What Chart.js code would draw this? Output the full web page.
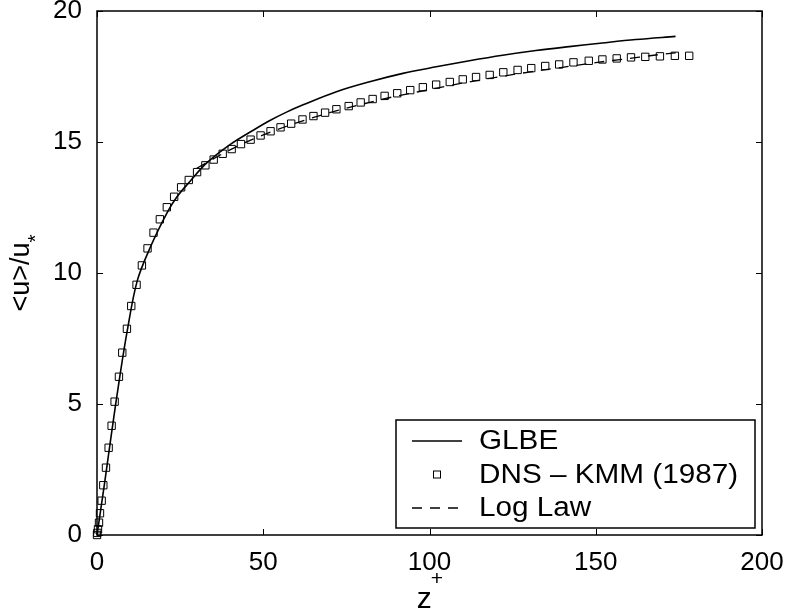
<!DOCTYPE html>
<html>
<head>
<meta charset="utf-8">
<script src="https://cdn.jsdelivr.net/npm/chart.js@4/dist/chart.umd.min.js"></script>
<style>
html,body{margin:0;padding:0;background:#fff;}
#wrap{width:789px;height:615px;}
</style>
</head>
<body>
<div id="wrap"><canvas id="c" width="789" height="615"></canvas></div>
<script>
// ---- data ----
const glbeZ = [0,2.3,4.5,6.8,9.1,12.1,16.1,21.1,24,28,33,40,47,52,57,62,72,82,92,102,112,122,132,142,152,162,174];
const glbeU = [0,2.0,4.0,6.0,7.8,9.7,11.0,12.3,12.9,13.5,14.2,14.9,15.45,15.82,16.14,16.42,16.92,17.3,17.62,17.87,18.1,18.31,18.49,18.64,18.78,18.91,19.03];

const dnsZ = [0,0.1,0.3,0.6,0.9,1.4,1.9,2.7,3.5,4.4,5.3,6.6,7.6,9.0,10.3,11.9,13.5,15.2,17.0,18.9,21.0,23.2,25.3,27.6,30.1,32.6,35.1,37.8,40.5,43.3,46.2,49.2,52.2,55.2,58.4,61.8,65.1,68.6,72.0,75.7,79.3,82.9,86.5,90.3,94.2,98.0,102.0,106.1,110.0,114.0,118.1,122.2,126.5,130.6,134.8,139.0,143.3,147.9,152.0,156.3,160.6,164.9,169.3,173.8,178.1];
const dnsU = [0,0.08,0.22,0.47,0.83,1.31,1.90,2.57,3.33,4.17,5.09,6.04,6.96,7.87,8.74,9.55,10.29,10.94,11.54,12.05,12.51,12.91,13.27,13.55,13.85,14.11,14.33,14.55,14.73,14.92,15.09,15.25,15.41,15.56,15.70,15.86,15.99,16.12,16.25,16.37,16.51,16.64,16.76,16.86,16.98,17.09,17.19,17.29,17.39,17.48,17.56,17.66,17.75,17.82,17.90,17.96,18.04,18.10,18.15,18.19,18.23,18.25,18.27,18.29,18.29];

const logZ = [30,40,50,60,70,80,90,100,110,120,130,140,150,160,170,176];
const logU = [14.0,14.7,15.27,15.73,16.12,16.45,16.75,17.0,17.25,17.47,17.67,17.85,18.03,18.19,18.35,18.43];

const xTicks = [0,50,100,150,200];
const yTicks = [0,5,10,15,20];
const seriesLabels = ['GLBE','DNS \u2013 KMM (1987)','Log Law'];
const xTitle = 'z';
const xTitleSup = '+';
const yTitle = '<u>/u';
const yTitleSub = '*';

const FONT = "'Liberation Sans', Arial, Helvetica, sans-serif";
const pts = (xs, ys) => xs.map((x, i) => ({x: x, y: ys[i]}));

const decor = {
  id: 'decor',
  afterDraw(chart) {
    const ctx = chart.ctx;
    const a = chart.chartArea;
    const xs = chart.scales.x, ys = chart.scales.y;
    ctx.save();
    ctx.strokeStyle = '#000';
    ctx.lineWidth = 1.5;
    // frame
    ctx.strokeRect(a.left, a.top, a.right - a.left, a.bottom - a.top);
    // inward ticks
    const tl = 6;
    ctx.beginPath();
    xTicks.forEach(v => {
      const p = Math.round(xs.getPixelForValue(v)) + 0.5;
      ctx.moveTo(p, a.bottom); ctx.lineTo(p, a.bottom - tl);
      ctx.moveTo(p, a.top); ctx.lineTo(p, a.top + tl);
    });
    yTicks.forEach(v => {
      const p = Math.round(ys.getPixelForValue(v)) + 0.5;
      ctx.moveTo(a.left, p); ctx.lineTo(a.left + tl, p);
      ctx.moveTo(a.right, p); ctx.lineTo(a.right - tl, p);
    });
    ctx.lineWidth = 1;
    ctx.stroke();

    // x axis title
    ctx.fillStyle = '#000';
    ctx.textBaseline = 'alphabetic';
    ctx.textAlign = 'left';
    ctx.font = '30px ' + FONT;
    const zw = ctx.measureText(xTitle).width;
    ctx.font = '21px ' + FONT;
    const pw = ctx.measureText(xTitleSup).width;
    const cx = (a.left + a.right) / 2;
    const x0 = cx - (zw + pw) / 2 + 1;
    ctx.font = '30px ' + FONT;
    ctx.fillText(xTitle, x0, 608);
    ctx.font = '21px ' + FONT;
    ctx.fillText(xTitleSup, x0 + zw - 1, 585);

    // y title rotated
    ctx.save();
    const cy = (a.top + a.bottom) / 2;
    ctx.translate(29, cy);
    ctx.rotate(-Math.PI / 2);
    ctx.font = '27px ' + FONT;
    const uw = ctx.measureText(yTitle).width;
    ctx.font = '21px ' + FONT;
    const sw = ctx.measureText(yTitleSub).width;
    const tw = uw + sw;
    ctx.font = '27px ' + FONT;
    ctx.fillText(yTitle, -tw / 2, 0);
    ctx.font = '21px ' + FONT;
    ctx.fillText(yTitleSub, -tw / 2 + uw, 13);
    ctx.restore();

    // legend box
    const L = 396, T = 420, R = 755, B = 528;
    ctx.fillStyle = '#fff';
    ctx.fillRect(L, T, R - L, B - T);
    ctx.lineWidth = 1.5;
    ctx.strokeStyle = '#000';
    ctx.strokeRect(L, T, R - L, B - T);
    const rows = [441, 474.5, 508];
    ctx.lineWidth = 1.5;
    ctx.beginPath(); ctx.moveTo(412, rows[0]); ctx.lineTo(462, rows[0]); ctx.stroke();
    ctx.lineWidth = 1;
    ctx.strokeRect(433.5, rows[1] - 3.5, 7, 7);
    ctx.lineWidth = 1.5;
    ctx.setLineDash([10, 8]);
    ctx.beginPath(); ctx.moveTo(412, rows[2]); ctx.lineTo(462, rows[2]); ctx.stroke();
    ctx.setLineDash([]);
    ctx.fillStyle = '#000';
    ctx.font = '27px ' + FONT;
    ctx.textBaseline = 'middle';
    ctx.textAlign = 'left';
    seriesLabels.forEach((s, i) => {
      ctx.save();
      ctx.translate(479, rows[i] + 1);
      ctx.scale(1.1, 1);
      ctx.fillText(s, 0, 0);
      ctx.restore();
    });
    ctx.restore();
  }
};

new Chart(document.getElementById('c'), {
  type: 'line',
  data: {
    datasets: [
      {
        label: seriesLabels[0],
        data: pts(glbeZ, glbeU),
        borderColor: '#000',
        borderWidth: 1.6,
        pointRadius: 0,
        fill: false,
        tension: 0.35,
        clip: false
      },
      {
        label: seriesLabels[1],
        data: pts(dnsZ, dnsU),
        showLine: false,
        pointStyle: 'rect',
        pointRadius: 5.2,
        pointBorderWidth: 1,
        pointBorderColor: '#000',
        pointBackgroundColor: 'rgba(0,0,0,0)',
        clip: false
      },
      {
        label: seriesLabels[2],
        data: pts(logZ, logU),
        borderColor: '#000',
        borderWidth: 1.3,
        borderDash: [10, 8],
        pointRadius: 0,
        fill: false,
        cubicInterpolationMode: 'monotone',
        clip: false
      }
    ]
  },
  options: {
    responsive: false,
    animation: false,
    devicePixelRatio: 1,
    layout: { padding: { top: 11, right: 27, left: 0, bottom: 0 } },
    plugins: { legend: { display: false }, tooltip: { enabled: false }, title: { display: false } },
    scales: {
      x: {
        type: 'linear',
        min: 0, max: 200,
        afterBuildTicks: s => { s.ticks = xTicks.map(v => ({value: v})); },
        grid: { display: false },
        border: { display: false },
        ticks: { color: '#000', font: { family: FONT, size: 26 }, padding: 4, maxRotation: 0 },
        afterFit: s => { s.height = 80; s.paddingLeft = 0; s.paddingRight = 0; }
      },
      y: {
        type: 'linear',
        min: 0, max: 20,
        afterBuildTicks: s => { s.ticks = yTicks.map(v => ({value: v})); },
        grid: { display: false },
        border: { display: false },
        ticks: { color: '#000', font: { family: FONT, size: 26 }, padding: 7 },
        afterFit: s => { s.width = 97; s.paddingTop = 0; s.paddingBottom = 0; }
      }
    }
  },
  plugins: [decor]
});
</script>
</body>
</html>
